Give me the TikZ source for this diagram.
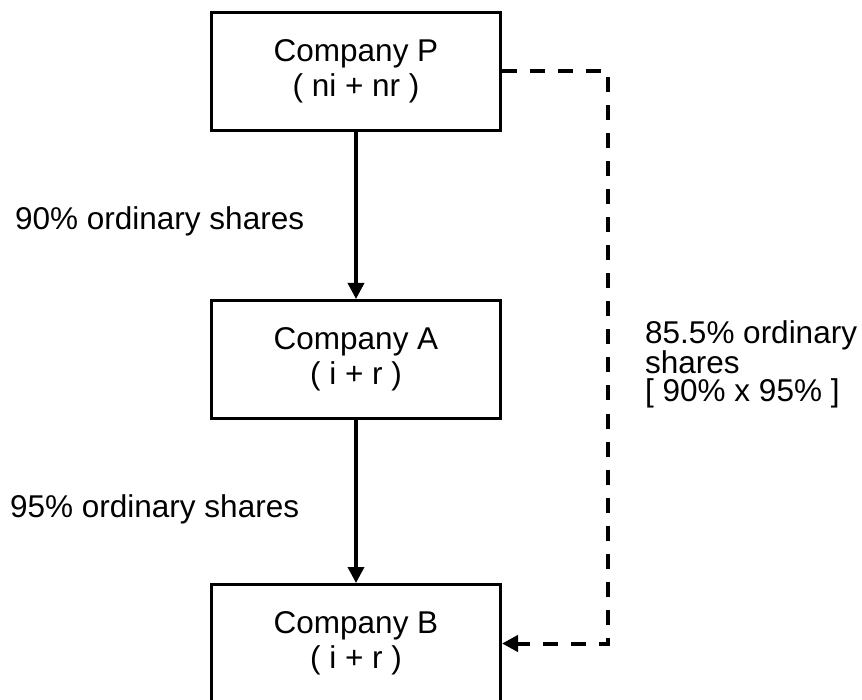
\documentclass[tikz,border=0pt]{standalone}
\usepackage{fontspec}
\setmainfont{Liberation Sans}
\usetikzlibrary{arrows.meta}

\begin{document}
\begin{tikzpicture}[x=1pt,y=-1pt,
  company/.style={draw, line width=3pt, minimum width=289pt, minimum height=118pt,
    inner sep=0pt, align=center, font=\fontsize{31.5}{35}\selectfont},
  lbl/.style={inner sep=0pt, font=\fontsize{31.5}{28.5}\selectfont},
  link/.style={line width=3.5pt, -{Triangle[length=16pt,width=16pt]}},
  indirect/.style={link, line width=4pt, dash pattern=on 15pt off 13pt}]
  % canvas
  \useasboundingbox (0,0) rectangle (862,700);
  \clip (0,0) rectangle (862,700);
  \fill[white] (0,0) rectangle (862,700);

  % companies
  \node[company] (P) at (356,71.5) {Company P\\( ni + nr )};
  \node[company] (A) at (356,359.5) {Company A\\( i + r )};
  \node[company] (B) at (356,643.5) {Company B\\( i + r )};

  % direct holdings
  \draw[link] (P.south) -- (A.north);
  \draw[link] (A.south) -- (B.north);

  % indirect holding of P in B
  \coordinate (turn) at (608,71.5);
  \draw[indirect] (P.east) -- (turn) |- (B.east);

  % share labels
  \node[lbl, anchor=base west] (l1) at (15,230) {90\% ordinary shares};
  \node[lbl, anchor=base west] (l2) at (10,517) {95\% ordinary shares};
  \node[lbl, anchor=base west, align=left] (l3) at (645,402)
    {85.5\% ordinary\\shares\\{}[ 90\% x 95\% ]};
\end{tikzpicture}
\end{document}
